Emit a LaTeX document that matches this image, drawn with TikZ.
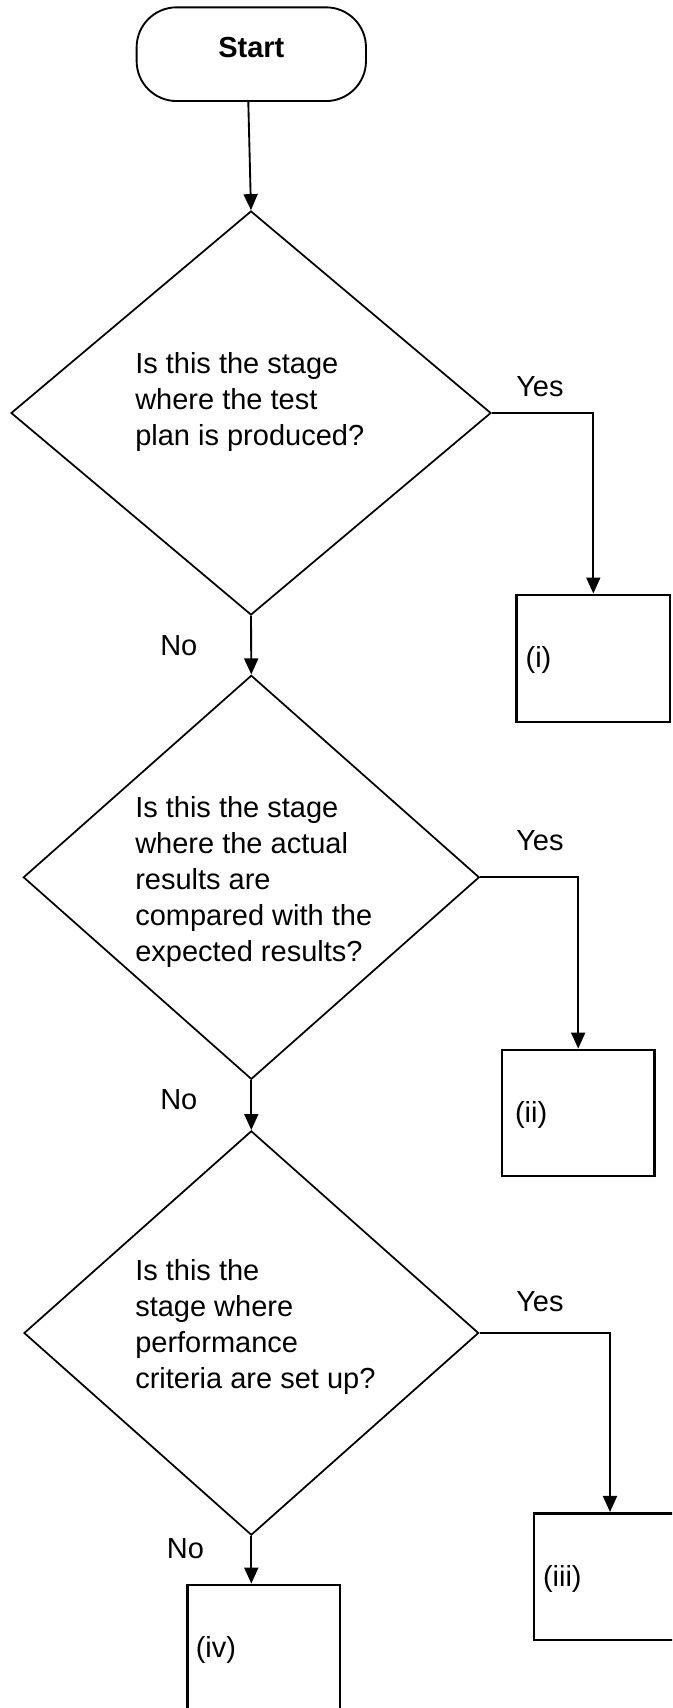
\documentclass[tikz,border=0pt]{standalone}
\usepackage{fontspec}
\setmainfont{Liberation Sans}
\usetikzlibrary{shapes.geometric,arrows.meta,calc}
\begin{document}
\begin{tikzpicture}[x=0.75pt,y=-0.75pt,
  every node/.style={font=\fontsize{21.75pt}{27pt}\selectfont},
  startbox/.style={draw,line width=1.4pt,rounded corners=30pt,inner sep=0pt,
    minimum width=172pt,minimum height=70.3pt,font=\fontsize{21.75pt}{27pt}\selectfont\bfseries,
    text height=15.75pt,text depth=11.1pt},
  decision/.style={draw,diamond,line width=1.3pt,inner sep=0pt},
  qtext/.style={anchor=north west,inner sep=0pt,align=left},
  answer/.style={draw,rectangle,line width=2.1pt,inner ysep=0pt,align=left,minimum height=94.5pt,
    text height=15.75pt,text depth=1.5pt},
  lbl/.style={anchor=base west,inner sep=0pt},
  conn/.style={line width=1.4pt,-{Triangle[length=12pt,width=10.5pt]}}
]
\useasboundingbox (0,0) rectangle (672,1708);
\clip (0,0) rectangle (672,1708);

\node[startbox] (start) at (251.3,54.2) {Start};

\node[decision,minimum width=360pt,minimum height=303pt] (d1) at (251,413) {};
\node[qtext] (t1) at (135,352) {Is this the stage\\where the test\\plan is produced?};

\node[decision,minimum width=342pt,minimum height=303pt] (d2) at (251.3,877.3) {};
\node[qtext] (t2) at (135,796.5) {Is this the stage\\where the actual\\results are\\compared with the\\expected results?};

\node[decision,minimum width=341pt,minimum height=303.2pt] (d3) at (251.3,1333) {};
\node[qtext] (t3) at (135,1259.5) {Is this the\\stage where\\performance\\criteria are set up?};

\node[answer,minimum width=115pt,minimum height=95.25pt,text width=101.5pt,inner xsep=6.75pt] (b1) at (593.3,658.4) {(i)};
\node[answer,minimum width=114.2pt,text width=94.7pt,inner xsep=9.75pt] (b2) at (578.2,1113) {(ii)};
\node[answer,minimum width=114pt,minimum height=95pt,text width=100.5pt,inner xsep=6.75pt] (b3) at (610,1576.7) {(iii)};
\node[answer,minimum width=114.2pt,text width=102.2pt,inner xsep=6pt] (b4) at (263.9,1648) {(iv)};

\node[lbl] (y1) at (516,396) {Yes};
\node[lbl] (y2) at (516,850) {Yes};
\node[lbl] (y3) at (516,1311) {Yes};
\node[lbl] (n1) at (160,655) {No};
\node[lbl] (n2) at (160,1109) {No};
\node[lbl] (n3) at (166.7,1558) {No};

\draw[conn] ($(start.south)+(-3,0)$) -- (d1.north);
\draw[conn] (d1.south) -- (d2.north);
\draw[conn] (d2.south) -- (d3.north);
\draw[conn] (d3.south) -- (d3.south |- b4.north);
\draw[conn] (d1.east) -| (b1.north);
\draw[conn] (d2.east) -| (b2.north);
\draw[conn] (d3.east) -| (b3.north);
\end{tikzpicture}
\end{document}
